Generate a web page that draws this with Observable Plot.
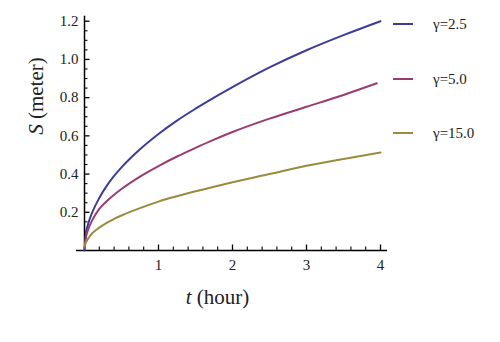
<!DOCTYPE html>
<html>
<head>
<meta charset="utf-8">
<script src="https://cdn.jsdelivr.net/npm/d3@7"></script>
<script src="https://cdn.jsdelivr.net/npm/@observablehq/plot@0.6"></script>
<style>
  html, body { margin: 0; padding: 0; background: #fff; }
  #wrap { position: relative; width: 500px; height: 342px; font-family: "Liberation Serif", "Times New Roman", serif; }
  #legend { position: absolute; left: 393px; top: 14px; }
  .item { position: absolute; left: 0; width: 110px; height: 20px; }
  .sw { position: absolute; left: 0; top: 9px; width: 20px; height: 2px; }
  .lab { position: absolute; left: 40px; top: 0; font-size: 15px; line-height: 20px; color: #222; white-space: nowrap; font-family: "Liberation Serif", serif; }
</style>
</head>
<body>
<div id="wrap"></div>
<script>
// ---- data ----
const t = [0, 0.02, 0.05, 0.1, 0.2, 0.3, 0.4, 0.5, 0.75, 1, 1.25, 1.5, 1.75, 2, 2.5, 3, 3.5, 4];
const sGamma25 = [0, 0.09, 0.14, 0.195, 0.275, 0.338, 0.39, 0.435, 0.53, 0.61, 0.68, 0.742, 0.8, 0.855, 0.958, 1.048, 1.127, 1.2];
const sGamma50 = [0.01, 0.07, 0.11, 0.155, 0.218, 0.258, 0.292, 0.322, 0.387, 0.442, 0.492, 0.537, 0.58, 0.62, 0.69, 0.752, 0.814, 0.875];
const sGamma150 = [0.02, 0.045, 0.062, 0.088, 0.12, 0.145, 0.165, 0.183, 0.222, 0.256, 0.284, 0.31, 0.334, 0.357, 0.40, 0.443, 0.479, 0.513];
const seriesNames = ["γ=2.5", "γ=5.0", "γ=15.0"];
const seriesColors = ["#3d3d99", "#993d71", "#998c3d"];
const xTickLabels = [1, 2, 3, 4];
const yTickLabels = [0.2, 0.4, 0.6, 0.8, 1.0, 1.2];
const xMinor = [0.2,0.4,0.6,0.8,1.2,1.4,1.6,1.8,2.2,2.4,2.6,2.8,3.2,3.4,3.6,3.8];
const yMinor = [0.05,0.1,0.15,0.25,0.3,0.35,0.45,0.5,0.55,0.65,0.7,0.75,0.85,0.9,0.95,1.05,1.1,1.15];

// build long table
const seriesValues = [sGamma25, sGamma50, sGamma150];
const rows = [];
seriesValues.forEach((vals, i) => {
  vals.forEach((v, j) => {
    // γ=5.0 line ends slightly before t=4
    const tt = (i === 1 && j === vals.length - 1) ? 3.95 : t[j];
    rows.push({t: tt, s: v, g: seriesNames[i]});
  });
});

const W = 500, H = 342;
const mL = 84, mR = 120, mT = 20.7, mB = 92;
const pxX = 4 / (W - mL - mR);
const pxY = 1.2 / (H - mT - mB);

const chart = Plot.plot({
  width: W, height: H,
  marginLeft: mL, marginRight: mR, marginTop: mT, marginBottom: mB,
  style: {fontFamily: "'Liberation Serif', 'Times New Roman', serif", fontSize: "15px", color: "#222", background: "white"},
  x: {domain: [0, 4]},
  y: {domain: [0, 1.2]},
  color: {domain: seriesNames, range: seriesColors},
  marks: [
    Plot.axisX({ticks: xTickLabels, tickSize: 0, tickPadding: 9, fontSize: 15, fontFamily: "Liberation Serif", label: null, tickFormat: d => String(d)}),
    Plot.axisY({ticks: yTickLabels, tickSize: 0, tickPadding: 6, fontSize: 15, fontFamily: "Liberation Serif", label: null, tickFormat: d => d.toFixed(1)}),
    Plot.ruleY([0], {x1: -8 * pxX, x2: 4 + 7 * pxX, stroke: "#000", strokeWidth: 1.5}),
    Plot.ruleX([0], {y1: -1 * pxY, y2: 1.2 + 5 * pxY, stroke: "#000", strokeWidth: 1.5}),
    Plot.ruleX(xTickLabels, {y1: 0, y2: 5.5 * pxY, stroke: "#000", strokeWidth: 1.3}),
    Plot.ruleX(xMinor, {y1: 0, y2: 3.5 * pxY, stroke: "#000", strokeWidth: 1.1}),
    Plot.ruleY(yTickLabels, {x1: 0, x2: 5.5 * pxX, stroke: "#000", strokeWidth: 1.3}),
    Plot.ruleY(yMinor, {x1: 0, x2: 3.5 * pxX, stroke: "#000", strokeWidth: 1.1}),
    Plot.line(rows, {x: "t", y: "s", z: "g", stroke: "g", strokeWidth: 2, curve: "monotone-x"}),
    Plot.text(["S (meter)"], {frameAnchor: "left", dx: -48, dy: -1, rotate: -90, fontSize: 21, fontFamily: "Liberation Serif", text: d => d}),
    Plot.text(["t (hour)"], {frameAnchor: "bottom", dx: -15, dy: 53, fontSize: 21, fontFamily: "Liberation Serif", text: d => d})
  ]
});

// italic variable letter in axis titles
d3.select(chart).selectAll("text").each(function() {
  const el = d3.select(this);
  const txt = el.text();
  if (txt === "S (meter)" || txt === "t (hour)") {
    const first = txt[0], rest = txt.slice(1);
    el.text(null);
    el.append("tspan").attr("font-style", "italic").text(first);
    el.append("tspan").text(rest);
  }
});

const wrap = document.getElementById("wrap");
wrap.appendChild(chart);

// legend
const legend = document.createElement("div");
legend.id = "legend";
const tops = [0, 55, 109];
seriesNames.forEach((name, i) => {
  const item = document.createElement("div");
  item.className = "item";
  item.style.top = tops[i] + "px";
  const sw = document.createElement("div");
  sw.className = "sw";
  sw.style.background = seriesColors[i];
  const lab = document.createElement("div");
  lab.className = "lab";
  lab.textContent = name;
  item.appendChild(sw);
  item.appendChild(lab);
  legend.appendChild(item);
});
wrap.appendChild(legend);
</script>
</body>
</html>
